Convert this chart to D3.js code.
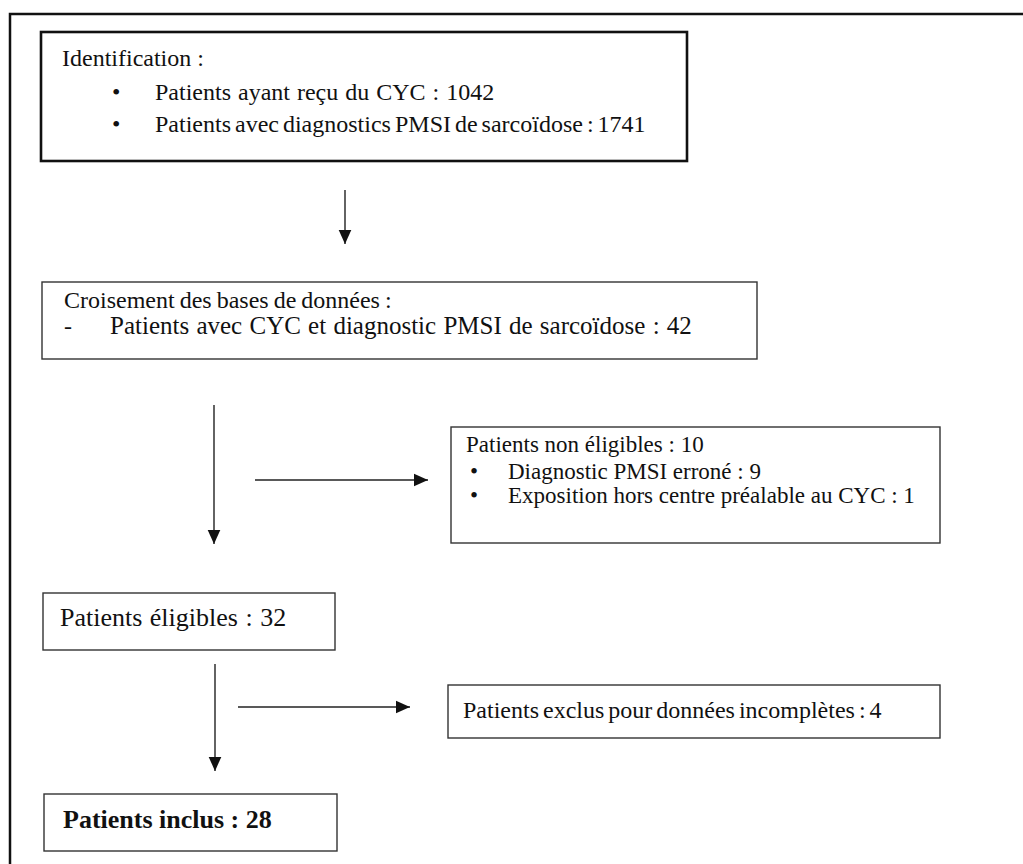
<!DOCTYPE html>
<html>
<head>
<meta charset="utf-8">
<script src="https://cdn.jsdelivr.net/npm/d3@7"></script>
<style>
  body { margin: 0; background: #fff; }
</style>
</head>
<body>
<div id="chart"></div>
<script>
// flow counts
const identCounts = [1042, 1741];
const crossCount = 42;
const nonEligible = [10, 9, 1];
const eligibleCount = 32;
const excludedCount = 4;
const includedCount = 28;

// text of each box
const identLines = [
  "Identification :",
  `Patients ayant reçu du CYC : ${identCounts[0]}`,
  `Patients avec diagnostics PMSI de sarcoïdose : ${identCounts[1]}`
];
const crossLines = [
  "Croisement des bases de données :",
  `Patients avec CYC et diagnostic PMSI de sarcoïdose : ${crossCount}`
];
const nonEligibleLines = [
  `Patients non éligibles : ${nonEligible[0]}`,
  `Diagnostic PMSI erroné : ${nonEligible[1]}`,
  `Exposition hors centre préalable au CYC : ${nonEligible[2]}`
];
const eligibleLines = [`Patients éligibles : ${eligibleCount}`];
const excludedLines = [`Patients exclus pour données incomplètes : ${excludedCount}`];
const includedLines = [`Patients inclus : ${includedCount}`];

const width = 1023, height = 864;
const serif = "'Liberation Serif', 'DejaVu Serif', serif";

const svg = d3.select("#chart").append("svg")
  .attr("width", width)
  .attr("height", height);

svg.append("defs").append("marker")
  .attr("id", "head")
  .attr("viewBox", "0 0 10 10")
  .attr("refX", 10).attr("refY", 5)
  .attr("markerUnits", "userSpaceOnUse")
  .attr("markerWidth", 14).attr("markerHeight", 14)
  .attr("orient", "auto")
  .append("path")
  .attr("d", "M0,0.5 L10,5 L0,9.5 Z")
  .attr("fill", "#111");

// outer frame (only top and left visible)
svg.append("path")
  .attr("d", `M10,${height + 5} L10,14 L${width + 5},14`)
  .attr("fill", "none")
  .attr("stroke", "#111")
  .attr("stroke-width", 2.5);

// boxes: x, y, w, h, lines, per-line offsets
const boxes = [
  { x: 41, y: 32, w: 646, h: 129, lines: identLines, stroke: 2.6, size: 24,
    rows: [{ dx: 21, dy: 34, ws: 0 }, { dx: 114, dy: 68, ws: 1, mark: "•", mx: 71 }, { dx: 114, dy: 100, ws: -2, mark: "•", mx: 71 }] },
  { x: 42, y: 282, w: 715, h: 77, lines: crossLines, stroke: 1.4, size: 24,
    rows: [{ dx: 22, dy: 26, ws: -1 }, { dx: 68, dy: 52, ws: 1, size: 25, mark: "-", mx: 22 }] },
  { x: 451, y: 427, w: 489, h: 116, lines: nonEligibleLines, stroke: 1.4, size: 23,
    rows: [{ dx: 15, dy: 25, ws: 0 }, { dx: 57, dy: 52, ws: 0, mark: "•", mx: 19 }, { dx: 57, dy: 76, ws: 0, mark: "•", mx: 19 }] },
  { x: 43, y: 593, w: 292, h: 57, lines: eligibleLines, stroke: 1.4, size: 26,
    rows: [{ dx: 17, dy: 33, ws: 1 }] },
  { x: 448, y: 685, w: 492, h: 53, lines: excludedLines, stroke: 1.4, size: 24,
    rows: [{ dx: 15, dy: 33, ws: -2 }] },
  { x: 44, y: 794, w: 293, h: 57, lines: includedLines, stroke: 1.4, size: 26, bold: true,
    rows: [{ dx: 19, dy: 34, ws: 0 }] }
];

const g = svg.selectAll("g.box")
  .data(boxes)
  .join("g")
  .attr("class", "box")
  .attr("transform", d => `translate(${d.x},${d.y})`);

g.append("rect")
  .attr("width", d => d.w)
  .attr("height", d => d.h)
  .attr("fill", "#fff")
  .attr("stroke", d => d.stroke > 2 ? "#111" : "#333")
  .attr("stroke-width", d => d.stroke);

g.each(function(d) {
  const sel = d3.select(this);
  d.lines.forEach((line, i) => {
    const r = d.rows[i];
    if (r.mark) {
      sel.append("text")
        .attr("x", r.mx).attr("y", r.dy)
        .attr("font-family", serif)
        .attr("font-size", d.size)
        .attr("fill", "#111")
        .text(r.mark);
    }
    sel.append("text")
      .attr("x", r.dx).attr("y", r.dy)
      .attr("font-family", serif)
      .attr("font-size", r.size || d.size)
      .attr("font-weight", d.bold ? "bold" : null)
      .attr("word-spacing", r.ws)
      .attr("fill", "#111")
      .text(line);
  });
});

// arrows
const arrows = [
  [[345, 190], [345, 244]],
  [[214, 405], [214, 544]],
  [[255, 480], [428, 480]],
  [[215, 664], [215, 771]],
  [[238, 707], [410, 707]]
];

const line = d3.line();
svg.selectAll("path.arrow")
  .data(arrows)
  .join("path")
  .attr("class", "arrow")
  .attr("d", line)
  .attr("stroke", "#222")
  .attr("stroke-width", 1.4)
  .attr("fill", "none")
  .attr("marker-end", "url(#head)");
</script>
</body>
</html>
